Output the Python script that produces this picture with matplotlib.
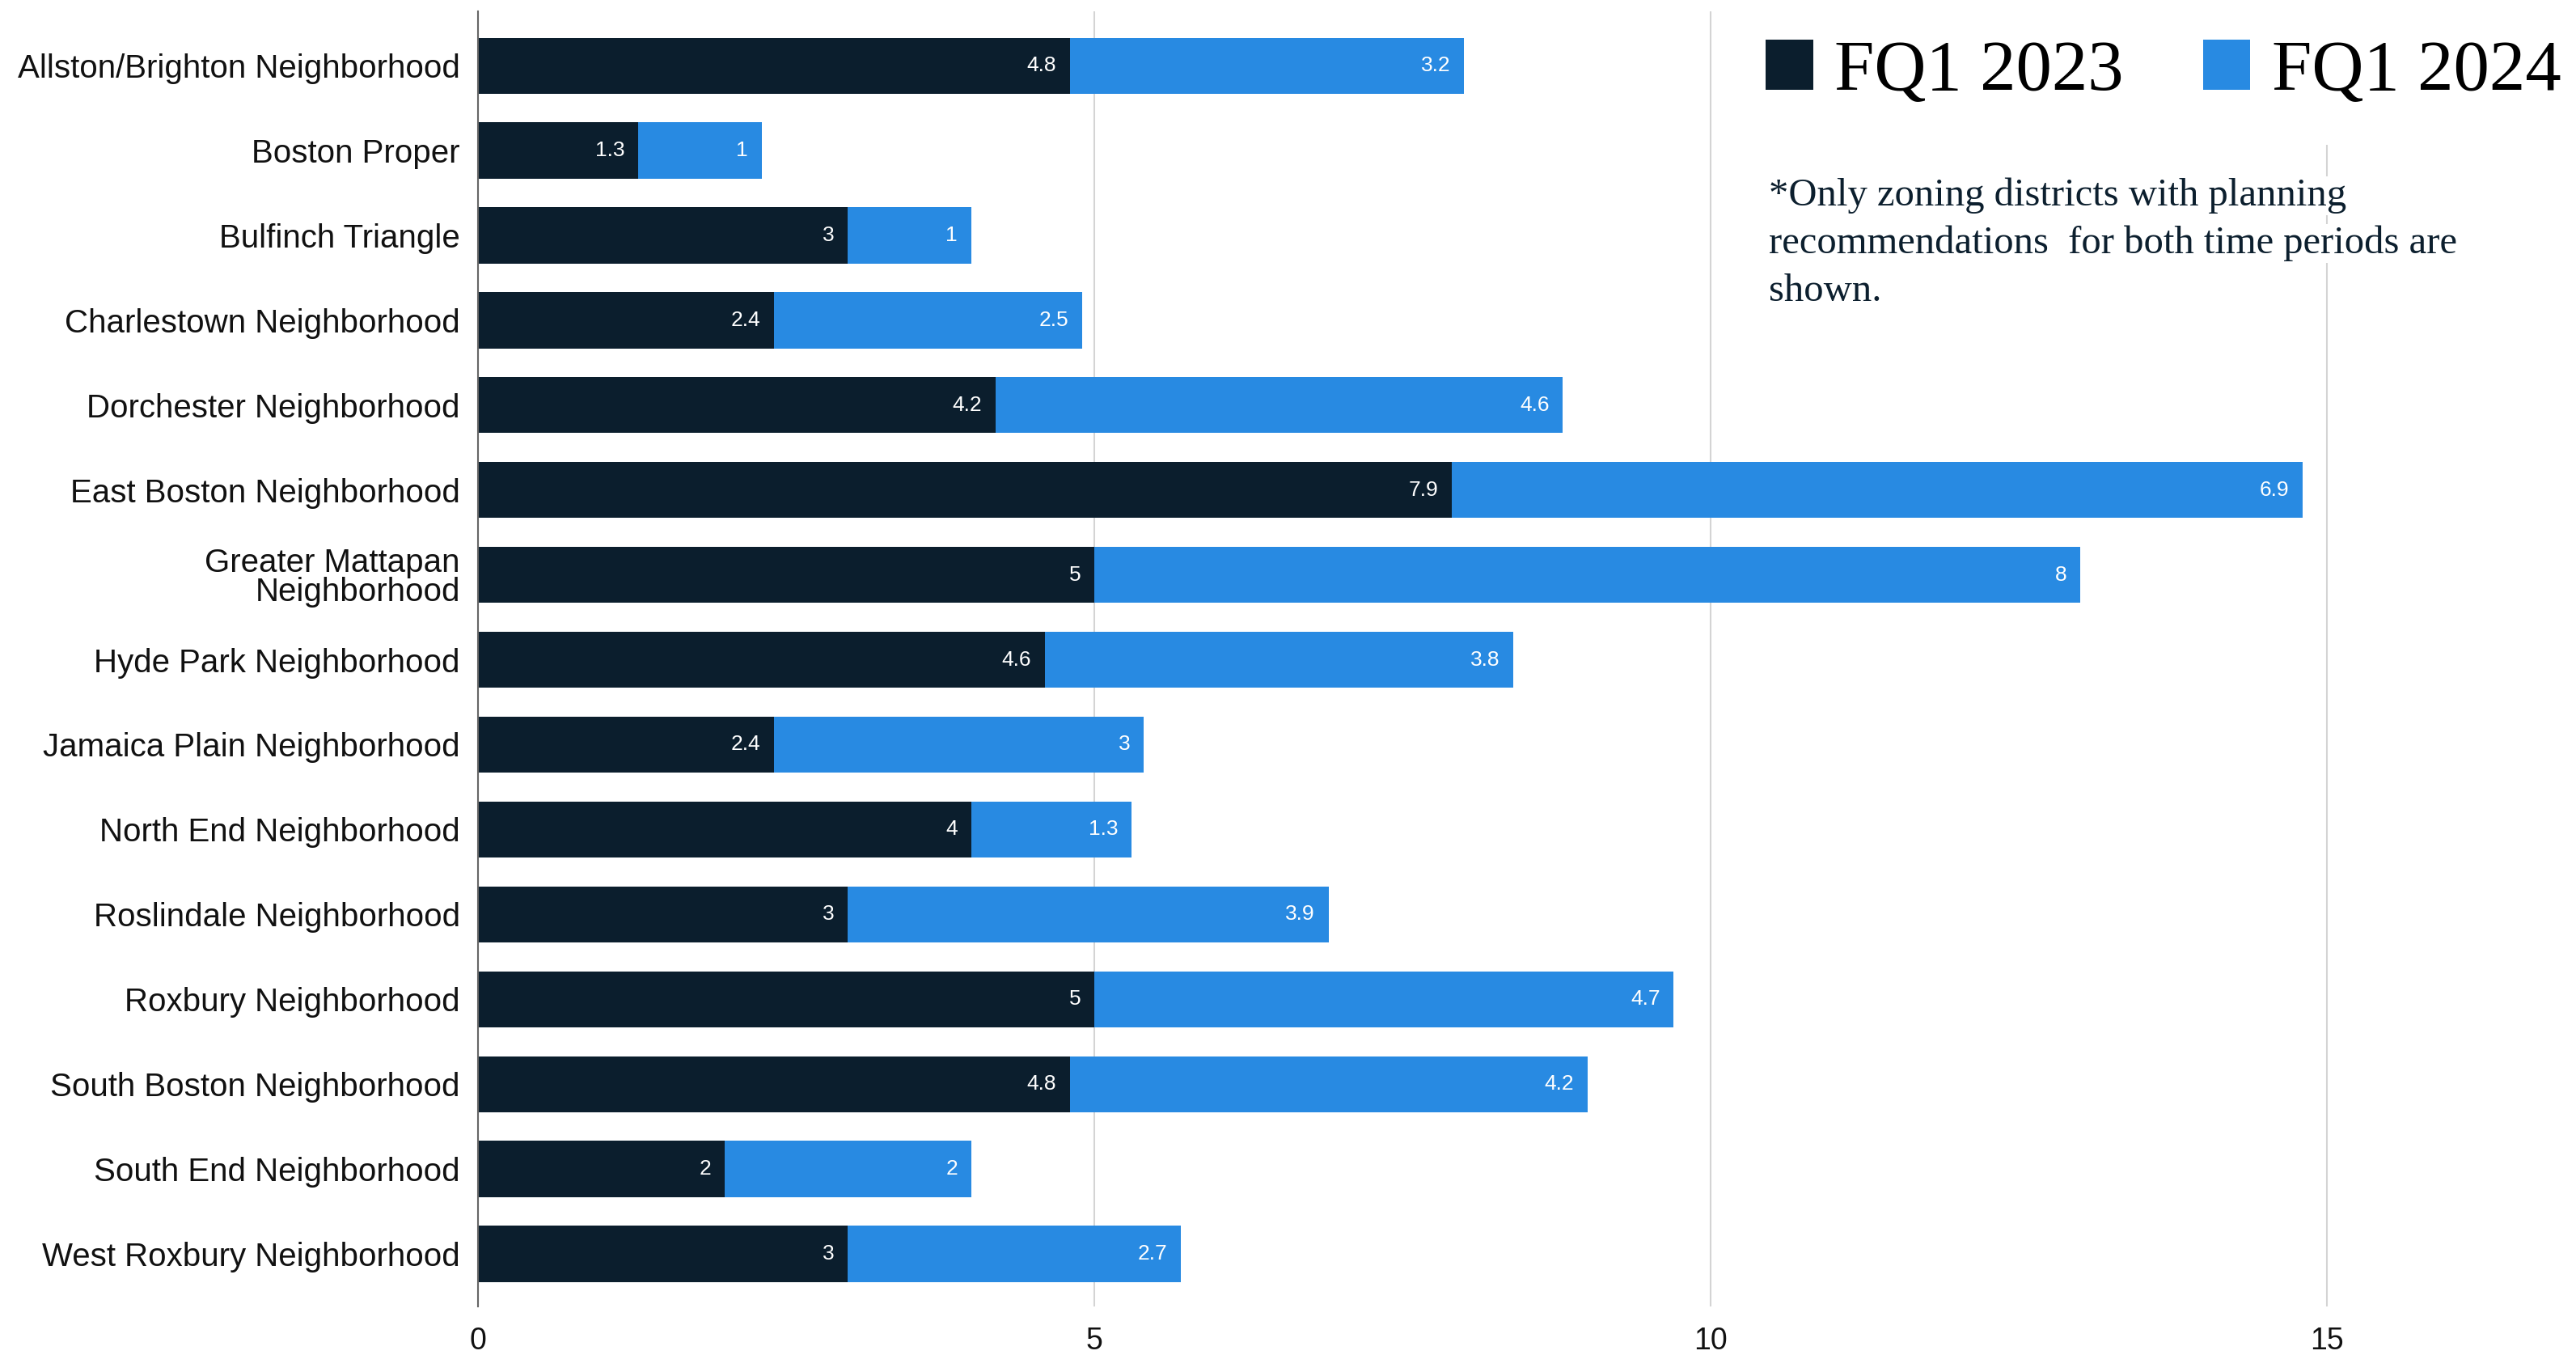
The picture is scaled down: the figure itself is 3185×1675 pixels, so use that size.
import matplotlib
matplotlib.use("Agg")
import matplotlib.pyplot as plt
import numpy as np

categories = [
    "Allston/Brighton Neighborhood", "Boston Proper", "Bulfinch Triangle",
    "Charlestown Neighborhood", "Dorchester Neighborhood", "East Boston Neighborhood",
    "Greater Mattapan\nNeighborhood", "Hyde Park Neighborhood", "Jamaica Plain Neighborhood",
    "North End Neighborhood", "Roslindale Neighborhood", "Roxbury Neighborhood",
    "South Boston Neighborhood", "South End Neighborhood", "West Roxbury Neighborhood",
]
fq1_2023 = [4.8, 1.3, 3, 2.4, 4.2, 7.9, 5, 4.6, 2.4, 4, 3, 5, 4.8, 2, 3]
fq1_2024 = [3.2, 1, 1, 2.5, 4.6, 6.9, 8, 3.8, 3, 1.3, 3.9, 4.7, 4.2, 2, 2.7]
series_names = ["FQ1 2023", "FQ1 2024"]
x_ticks = [0, 5, 10, 15]
note_lines = ["*Only zoning districts with planning",
              "recommendations  for both time periods are",
              "shown."]

DARK = "#0b1e2d"
BLUE = "#288ae2"

W, H, DPI = 3185, 1675, 100
fig = plt.figure(figsize=(W / DPI, H / DPI), dpi=DPI)
xmax = 16.8
left_px, bottom_px, top_px = 591, 1615, 14
right_px = left_px + xmax * 152.4
ax = fig.add_axes([left_px / W, 1 - bottom_px / H, (right_px - left_px) / W, (bottom_px - top_px) / H])

y = np.arange(len(categories))
a = np.array(fq1_2023, dtype=float)
b = np.array(fq1_2024, dtype=float)
h = 0.66
b1 = ax.barh(y, a, height=h, color=DARK, label=series_names[0], zorder=3)
b2 = ax.barh(y, b, left=a, height=h, color=BLUE, label=series_names[1], zorder=3)

for yi, v, end in zip(y, a, a):
    ax.annotate(f"{v:g}", (end, yi), xytext=(-12, 0), textcoords="offset points",
                ha="right", va="center", color="white", fontsize=19,
                fontfamily="Liberation Sans", zorder=4)
for yi, v, end in zip(y, b, a + b):
    ax.annotate(f"{v:g}", (end, yi), xytext=(-12, 0), textcoords="offset points",
                ha="right", va="center", color="white", fontsize=19,
                fontfamily="Liberation Sans", zorder=4)

ax.set_xlim(0, xmax)
ax.set_ylim(len(categories) - 1 + 0.62, -0.64)
ax.set_yticks(y)
ax.set_yticklabels(categories, fontfamily="Liberation Sans", fontsize=29,
                   color="#111111", linespacing=0.95)
ax.set_xticks(x_ticks)
ax.set_xticklabels([str(t) for t in x_ticks], fontfamily="Liberation Sans",
                   fontsize=27, color="#111111")
ax.tick_params(axis="both", length=0)
ax.tick_params(axis="y", pad=16)
ax.tick_params(axis="x", pad=18)
for s in ["top", "right", "bottom"]:
    ax.spines[s].set_visible(False)
ax.spines["left"].set_color("#666666")
ax.spines["left"].set_linewidth(1.5)
ax.spines["left"].set_zorder(5)
ax.xaxis.grid(True, color="#d4d4d4", linewidth=1.5, zorder=0)
ax.set_axisbelow(True)

leg = fig.legend(handles=[b1, b2], labels=series_names, loc="upper left",
                 bbox_to_anchor=(2134 / W, 1.0), ncol=2, frameon=True,
                 facecolor="white", edgecolor="none", framealpha=1,
                 prop={"family": "Liberation Serif", "size": 64},
                 handlelength=0.66, handleheight=0.7, handletextpad=0.3,
                 columnspacing=1.1, borderpad=0.55, borderaxespad=0.0, fancybox=False)
leg.set_zorder(10)

for i, line in enumerate(note_lines):
    fig.text(2187 / W, 1 - (242 + 59 * i) / H, line, ha="left", va="center",
             fontfamily="Liberation Serif", fontsize=35, color="#0c1f2e",
             bbox=dict(facecolor="white", edgecolor="none", pad=1), zorder=10)

fig.savefig("out.png", dpi=DPI, facecolor="white")
